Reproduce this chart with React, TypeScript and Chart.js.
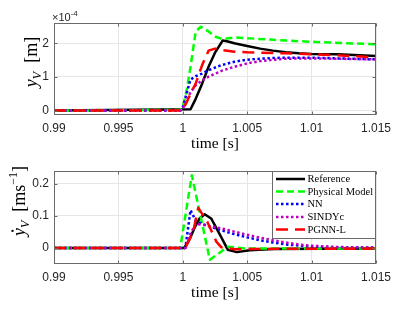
import React, { useEffect, useRef } from 'react';
import { Chart, registerables } from 'chart.js';

Chart.register(...registerables);

// ---------- data ----------
const seriesNames = ['Reference', 'Physical Model', 'NN', 'SINDYc', 'PGNN-L'];

const xTicks = [0.99, 0.995, 1, 1.005, 1.01, 1.015];
const xTickLabels = ['0.99', '0.995', '1', '1.005', '1.01', '1.015'];
const posTicks = [0, 1, 2];
const posTickLabels = ['0', '1', '2'];
const velTicks = [0, 0.1, 0.2];
const velTickLabels = ['0', '0.1', '0.2'];

// position y_V (units of 1e-4 m)
const posRefT = [0.99, 1.0006, 1.001, 1.0015, 1.002, 1.0025, 1.0031, 1.0035, 1.004, 1.005, 1.006, 1.007, 1.008, 1.009, 1.01, 1.012, 1.015];
const posRefY = [0, 0.04, 0.35, 0.8, 1.3, 1.72, 2.08, 2.05, 2.0, 1.92, 1.84, 1.78, 1.73, 1.7, 1.68, 1.67, 1.62];
const posPhysT = [0.99, 0.9998, 1.0, 1.0003, 1.0006, 1.001, 1.0014, 1.002, 1.0025, 1.0031, 1.004, 1.005, 1.007, 1.009, 1.012, 1.015];
const posPhysY = [0, 0.02, 0.1, 0.6, 1.3, 2.35, 2.49, 2.35, 2.2, 2.12, 2.17, 2.15, 2.1, 2.06, 2.01, 1.97];
const posNnT = [0.99, 0.9998, 1.0, 1.0003, 1.0006, 1.001, 1.0015, 1.002, 1.003, 1.004, 1.005, 1.006, 1.007, 1.008, 1.01, 1.012, 1.015];
const posNnY = [0, 0, 0.1, 0.52, 0.92, 1.02, 1.1, 1.2, 1.35, 1.45, 1.51, 1.54, 1.56, 1.57, 1.57, 1.55, 1.52];
const posSindyT = [0.99, 0.9998, 1.0, 1.0003, 1.0006, 1.001, 1.0015, 1.002, 1.003, 1.004, 1.005, 1.006, 1.007, 1.008, 1.01, 1.012, 1.015];
const posSindyY = [0, 0, 0.05, 0.3, 0.55, 0.75, 0.9, 1.01, 1.18, 1.3, 1.4, 1.47, 1.51, 1.54, 1.55, 1.54, 1.52];
const posPgnnT = [0.99, 0.9998, 1.0, 1.0003, 1.0006, 1.001, 1.0015, 1.002, 1.0025, 1.003, 1.004, 1.005, 1.006, 1.008, 1.01, 1.012, 1.015];
const posPgnnY = [0, 0, 0.02, 0.25, 0.5, 0.8, 1.35, 1.78, 1.84, 1.8, 1.75, 1.73, 1.72, 1.7, 1.67, 1.64, 1.58];

// velocity dy_V/dt (m/s)
const velRefT = [0.99, 1.0001, 1.0005, 1.00095, 1.0013, 1.0017, 1.0022, 1.0029, 1.0035, 1.0042, 1.0052, 1.007, 1.015];
const velRefY = [0, 0, 0.025, 0.066, 0.092, 0.105, 0.092, 0.04, -0.006, -0.013, -0.007, -0.003, -0.002];
const velPhysT = [0.99, 0.9998, 1.0007, 1.0021, 1.0035, 1.005, 1.015];
const velPhysY = [0, 0, 0.227, -0.037, 0.004, -0.002, -0.002];
const velNnT = [0.99, 1.0002, 1.0006, 1.001, 1.0015, 1.002, 1.003, 1.004, 1.005, 1.006, 1.007, 1.008, 1.01, 1.012, 1.015];
const velNnY = [0, 0, 0.118, 0.085, 0.075, 0.068, 0.055, 0.043, 0.033, 0.024, 0.017, 0.011, 0.004, 0.002, 0.001];
const velSindyT = [0.99, 1.0002, 1.0006, 1.001, 1.0015, 1.002, 1.003, 1.004, 1.005, 1.006, 1.007, 1.008, 1.009, 1.01, 1.012, 1.015];
const velSindyY = [0, 0, 0.045, 0.075, 0.073, 0.069, 0.061, 0.051, 0.041, 0.032, 0.024, 0.017, 0.011, 0.007, 0.003, 0.001];
const velPgnnT = [0.99, 1.0002, 1.0008, 1.0012, 1.0019, 1.0026, 1.003, 1.004, 1.006, 1.015];
const velPgnnY = [0, 0, 0.05, 0.125, 0.082, 0.02, 0.002, -0.004, -0.003, -0.002];

// ---------- styles ----------
const styles = [
  { color: '#000000', dash: [] as number[], width: 2.5 },
  { color: '#00ff00', dash: [7, 4], width: 2.5 },
  { color: '#0000ff', dash: [2.5, 2.5], width: 2.5 },
  { color: '#bf00bf', dash: [2.5, 2.5], width: 2.5 },
  { color: '#ff0000', dash: [12, 7], width: 2.5 },
];

const SANS = "'Liberation Sans', Arial, sans-serif";
const SERIF = "'Liberation Serif', 'Times New Roman', serif";
const FRAME = '#6a6a6a';
const TICKCOLOR = '#262626';

Chart.defaults.font.family = SANS;

function makeDatasets(pairs: [number[], number[]][]) {
  return pairs.map(([t, v], i) => ({
    label: seriesNames[i],
    data: t.map((x, j) => ({ x, y: v[j] })),
    borderColor: styles[i].color,
    borderDash: styles[i].dash,
    borderWidth: styles[i].width,
    borderCapStyle: 'butt',
    borderJoinStyle: 'round',
    pointRadius: 0,
    fill: false,
    tension: 0,
    clip: 0,
    order: 5 - i,
  }));
}

type Part = { text: string; font: string; dy?: number; dot?: boolean };

function drawRich(ctx: CanvasRenderingContext2D, parts: Part[], cx: number, cy: number, rotate: boolean) {
  ctx.save();
  ctx.translate(cx, cy);
  if (rotate) ctx.rotate(-Math.PI / 2);
  ctx.textBaseline = 'alphabetic';
  ctx.textAlign = 'left';
  let total = 0;
  const widths = parts.map((p) => {
    ctx.font = p.font;
    const w = ctx.measureText(p.text).width;
    total += w;
    return w;
  });
  let x = -total / 2;
  ctx.fillStyle = '#000';
  parts.forEach((p, i) => {
    ctx.font = p.font;
    ctx.fillText(p.text, x, p.dy || 0);
    if (p.dot) {
      ctx.beginPath();
      ctx.arc(x + widths[i] / 2 + 1.2, -12.5, 1.2, 0, Math.PI * 2);
      ctx.fill();
    }
    x += widths[i];
  });
  ctx.restore();
}

function framePlugin(yTicks: number[], yLabel: Part[], yLabelPos: [number, number], xTitleY: number, extra?: (chart: any) => void) {
  return {
    id: 'frame',
    afterDraw(chart: any) {
      const { ctx, chartArea: a, scales } = chart;
      const L = Math.round(a.left) + 0.5;
      const R = Math.round(a.right) - 0.5;
      const T = Math.round(a.top) + 0.5;
      const B = Math.round(a.bottom) - 0.5;
      ctx.save();
      ctx.strokeStyle = FRAME;
      ctx.lineWidth = 1;
      ctx.setLineDash([]);
      ctx.strokeRect(L, T, R - L, B - T);
      const tl = 3;
      ctx.beginPath();
      xTicks.forEach((v) => {
        const px = Math.round(scales.x.getPixelForValue(v)) + 0.5;
        ctx.moveTo(px, B); ctx.lineTo(px, B - tl);
        ctx.moveTo(px, T); ctx.lineTo(px, T + tl);
      });
      yTicks.forEach((v) => {
        const py = Math.round(scales.y.getPixelForValue(v)) + 0.5;
        ctx.moveTo(L, py); ctx.lineTo(L + tl, py);
        ctx.moveTo(R, py); ctx.lineTo(R - tl, py);
      });
      ctx.stroke();
      ctx.restore();

      drawRich(ctx, [{ text: 'time [s]', font: `15.5px ${SERIF}` }], (a.left + a.right) / 2, xTitleY, false);
      drawRich(ctx, yLabel, yLabelPos[0], yLabelPos[1], true);
      if (extra) extra(chart);
    },
  };
}

function makeConfig(opts: {
  datasets: any[]; yMin: number; yMax: number; yTicks: number[]; yTickLabels: string[];
  padTop: number; xAxisH: number; plugin: any;
}) {
  return {
    type: 'line',
    data: { datasets: opts.datasets },
    options: {
      responsive: false,
      animation: false,
      events: [],
      layout: { padding: { top: opts.padTop, right: 39, left: 0, bottom: 0 } },
      plugins: { legend: { display: false }, tooltip: { enabled: false } },
      scales: {
        x: {
          type: 'linear',
          min: 0.99,
          max: 1.015,
          afterBuildTicks: (s: any) => { s.ticks = xTicks.map((v) => ({ value: v })); },
          afterFit: (s: any) => { s.height = opts.xAxisH; },
          ticks: {
            autoSkip: false,
            maxRotation: 0,
            padding: 6.5,
            color: TICKCOLOR,
            font: { size: 12, family: SANS },
            callback: (_v: any, i: number) => xTickLabels[i],
          },
          grid: { color: '#e6e6e6', drawTicks: false, lineWidth: 1 },
          border: { display: false },
        },
        y: {
          type: 'linear',
          min: opts.yMin,
          max: opts.yMax,
          afterBuildTicks: (s: any) => { s.ticks = opts.yTicks.map((v) => ({ value: v })); },
          afterFit: (s: any) => { s.width = 54; },
          ticks: {
            autoSkip: false,
            padding: 5,
            color: TICKCOLOR,
            font: { size: 12, family: SANS },
            callback: (_v: any, i: number) => opts.yTickLabels[i],
          },
          grid: { color: '#e6e6e6', drawTicks: false, lineWidth: 1 },
          border: { display: false },
        },
      },
    },
    plugins: [opts.plugin],
  };
}

function drawExponent(chart: any) {
  const ctx = chart.ctx as CanvasRenderingContext2D;
  ctx.save();
  ctx.fillStyle = TICKCOLOR;
  ctx.textBaseline = 'alphabetic';
  ctx.textAlign = 'left';
  ctx.font = `11px ${SANS}`;
  ctx.fillText('\u00d710', 52, 21);
  const w = ctx.measureText('\u00d710').width;
  ctx.font = `8px ${SANS}`;
  ctx.fillText('-4', 52 + w, 15.5);
  ctx.restore();
}

function drawLegend(chart: any) {
  const ctx = chart.ctx as CanvasRenderingContext2D;
  const a = chart.chartArea;
  const right = Math.round(a.right) - 0.5;
  const top = Math.round(a.top) + 0.5;
  const left = 272.5;
  const bottom = top + 67;
  ctx.save();
  ctx.fillStyle = '#ffffff';
  ctx.fillRect(left, top, right - left, bottom - top);
  ctx.strokeStyle = FRAME;
  ctx.lineWidth = 1;
  ctx.strokeRect(left, top, right - left, bottom - top);
  const rowY = [7.5, 20, 32.5, 45.5, 58];
  seriesNames.forEach((name, i) => {
    const y = top + rowY[i];
    ctx.beginPath();
    ctx.strokeStyle = styles[i].color;
    ctx.lineWidth = styles[i].width;
    ctx.setLineDash(styles[i].dash);
    ctx.lineCap = 'butt';
    ctx.moveTo(276, y);
    ctx.lineTo(305, y);
    ctx.stroke();
    ctx.setLineDash([]);
    ctx.fillStyle = '#000';
    ctx.font = `10.5px ${SERIF}`;
    ctx.textBaseline = 'middle';
    ctx.textAlign = 'left';
    ctx.fillText(name, 307.5, y + 0.5);
  });
  ctx.restore();
}

const topConfig = makeConfig({
  datasets: makeDatasets([
    [posRefT, posRefY], [posPhysT, posPhysY], [posNnT, posNnY], [posSindyT, posSindyY], [posPgnnT, posPgnnY],
  ]),
  yMin: -0.13,
  yMax: 2.6,
  yTicks: posTicks,
  yTickLabels: posTickLabels,
  padTop: 23,
  xAxisH: 40,
  plugin: framePlugin(
    posTicks,
    [
      { text: 'y', font: `italic 18px ${SERIF}` },
      { text: 'V', font: `italic 12px ${SERIF}`, dy: 3.5 },
      { text: '  [m]', font: `18px ${SERIF}` },
    ],
    [37, 62],
    148,
    drawExponent,
  ),
});

const bottomConfig = makeConfig({
  datasets: makeDatasets([
    [velRefT, velRefY], [velPhysT, velPhysY], [velNnT, velNnY], [velSindyT, velSindyY], [velPgnnT, velPgnnY],
  ]),
  yMin: -0.05,
  yMax: 0.24,
  yTicks: velTicks,
  yTickLabels: velTickLabels,
  padTop: 16,
  xAxisH: 48,
  plugin: framePlugin(
    velTicks,
    [
      { text: 'y', font: `italic 18px ${SERIF}`, dot: true },
      { text: 'V', font: `italic 12px ${SERIF}`, dy: 3.5 },
      { text: '  [ms', font: `18px ${SERIF}` },
      { text: '\u22121', font: `12px ${SERIF}`, dy: -8 },
      { text: ']', font: `18px ${SERIF}` },
    ],
    [25, 46],
    142,
    drawLegend,
  ),
});

function Panel({ config, top, height }: { config: any; top: number; height: number }) {
  const ref = useRef<HTMLCanvasElement>(null);
  useEffect(() => {
    const chart = new Chart(ref.current as HTMLCanvasElement, config);
    return () => chart.destroy();
  }, [config]);
  return (
    <canvas
      ref={ref}
      width={415}
      height={height}
      style={{ position: 'absolute', left: 0, top, width: 415, height }}
    />
  );
}

export default function App() {
  return (
    <div style={{ position: 'fixed', left: 0, top: 0, width: 415, height: 312, background: '#fff', overflow: 'hidden' }}>
      <Panel config={topConfig} top={0} height={155} />
      <Panel config={bottomConfig} top={155} height={157} />
    </div>
  );
}
